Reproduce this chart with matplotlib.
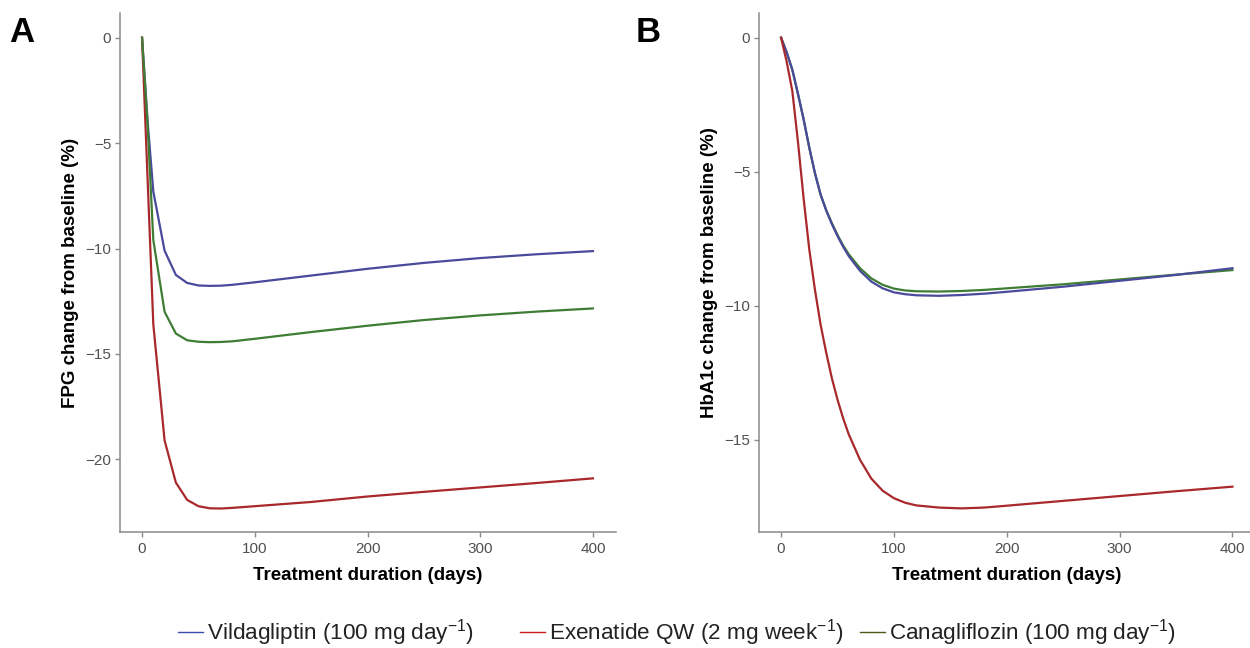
import matplotlib
matplotlib.use("Agg")
import matplotlib.pyplot as plt
from matplotlib.lines import Line2D

plt.rcParams['font.family'] = ['Liberation Sans', 'DejaVu Sans']
plt.rcParams['mathtext.fontset'] = 'custom'
plt.rcParams['mathtext.rm'] = 'Liberation Sans'
plt.rcParams['mathtext.it'] = 'Liberation Sans:italic'
plt.rcParams['mathtext.bf'] = 'Liberation Sans:bold'

# ---------------- data ----------------
days_a = [0, 5, 10, 20, 30, 40, 50, 60, 70, 80, 100, 150, 200, 250, 300, 350, 400]
fpg_vilda = [0, -4.0, -7.3, -10.1, -11.25, -11.63, -11.75, -11.77, -11.76, -11.72,
             -11.6, -11.28, -10.96, -10.68, -10.45, -10.27, -10.12]
fpg_exen = [0, -6.8, -13.6, -19.1, -21.1, -21.92, -22.22, -22.32, -22.33, -22.3,
            -22.22, -22.02, -21.76, -21.54, -21.33, -21.12, -20.9]
fpg_cana = [0, -4.2, -9.6, -13.0, -14.03, -14.35, -14.42, -14.44, -14.43, -14.4,
            -14.28, -13.96, -13.66, -13.39, -13.17, -12.99, -12.84]

days_b = [0, 5, 10, 15, 20, 25, 30, 35, 40, 45, 50, 55, 60, 70, 80, 90, 100, 110,
          120, 140, 160, 180, 200, 250, 300, 350, 400]
hba_vilda = [0, -0.55, -1.2, -2.1, -3.05, -4.1, -5.05, -5.85, -6.45, -6.95, -7.4, -7.8,
             -8.15, -8.7, -9.1, -9.35, -9.5, -9.57, -9.61, -9.63, -9.6, -9.55, -9.48,
             -9.29, -9.07, -8.85, -8.6]
hba_exen = [0, -0.9, -2.0, -3.9, -6.0, -7.9, -9.4, -10.7, -11.75, -12.7, -13.5, -14.2,
            -14.8, -15.75, -16.45, -16.9, -17.18, -17.35, -17.45, -17.53, -17.56, -17.53,
            -17.46, -17.28, -17.1, -16.92, -16.75]
hba_cana = [0, -0.55, -1.2, -2.1, -3.05, -4.1, -5.05, -5.85, -6.43, -6.92, -7.36, -7.75,
            -8.08, -8.6, -8.98, -9.22, -9.36, -9.43, -9.46, -9.47, -9.45, -9.41, -9.35,
            -9.2, -9.02, -8.84, -8.67]

series_names = ["Vildagliptin (100 mg day$^{-1}$)",
                "Exenatide QW (2 mg week$^{-1}$)",
                "Canagliflozin (100 mg day$^{-1}$)"]
line_colors = ["#4a4a9c", "#a8282c", "#3f7d35"]
legend_colors = ["#3b4bb0", "#c81e1e", "#4a5a18"]

x_ticks = [0, 100, 200, 300, 400]
ya_ticks = [0, -5, -10, -15, -20]
yb_ticks = [0, -5, -10, -15]

# ---------------- figure ----------------
W, H = 1250, 648
fig = plt.figure(figsize=(W / 100, H / 100), dpi=100)

def fx(px):
    return px / W

def fy(py):
    return 1 - py / H

axA = fig.add_axes([fx(119.5), fy(531.7), 496 / W, 518.4 / H])
axB = fig.add_axes([fx(758.5), fy(531.7), 496.5 / W, 518.4 / H])

spine_col = "#8a8a8a"
tick_col = "#505050"

def style(ax, yticks, ylim, ylabel):
    for s in ["top", "right"]:
        ax.spines[s].set_visible(False)
    for s in ["left", "bottom"]:
        ax.spines[s].set_color(spine_col)
        ax.spines[s].set_linewidth(1.1)
    ax.set_xlim(-20, 420)
    ax.set_ylim(*ylim)
    ax.set_xticks(x_ticks)
    ax.set_yticks(yticks)
    ax.tick_params(axis="both", colors=spine_col, labelcolor=tick_col,
                   labelsize=11, length=3.5, width=1.0, pad=2.5)
    ax.tick_params(axis="x", pad=4)
    ax.set_xlabel("Treatment duration (days)", fontsize=13.5, fontweight="bold",
                  labelpad=8)
    ax.set_ylabel(ylabel, fontsize=13.5, fontweight="bold", labelpad=4.5)
    ax.set_facecolor("white")

for vals, c in zip([fpg_vilda, fpg_exen, fpg_cana], line_colors):
    axA.plot(days_a, vals, color=c, lw=1.6, solid_joinstyle="round")
for vals, c in zip([hba_cana, hba_vilda, hba_exen], [line_colors[2], line_colors[0], line_colors[1]]):
    axB.plot(days_b, vals, color=c, lw=1.6, solid_joinstyle="round")

style(axA, ya_ticks, (-23.43, 1.16), "FPG change from baseline (%)")
style(axB, yb_ticks, (-18.43, 0.91), "HbA1c change from baseline (%)")

fig.text(fx(9), fy(16), "A", fontsize=25, fontweight="bold", va="top", ha="left")
fig.text(fx(636), fy(16), "B", fontsize=25, fontweight="bold", va="top", ha="left")

# legend: three entries placed along the bottom
leg_x = [178, 520, 860]
for name, c, x in zip(series_names, legend_colors, leg_x):
    h = Line2D([], [], color=c, lw=1.0)
    lg = fig.legend([h], [name], loc="center left", bbox_to_anchor=(fx(x), fy(633)),
                    frameon=False, fontsize=16.2, handlelength=1.1, handletextpad=0.2,
                    borderpad=0, borderaxespad=0)
    for t in lg.get_texts():
        t.set_color("#222222")

fig.savefig("out.png", dpi=100, facecolor="white")
